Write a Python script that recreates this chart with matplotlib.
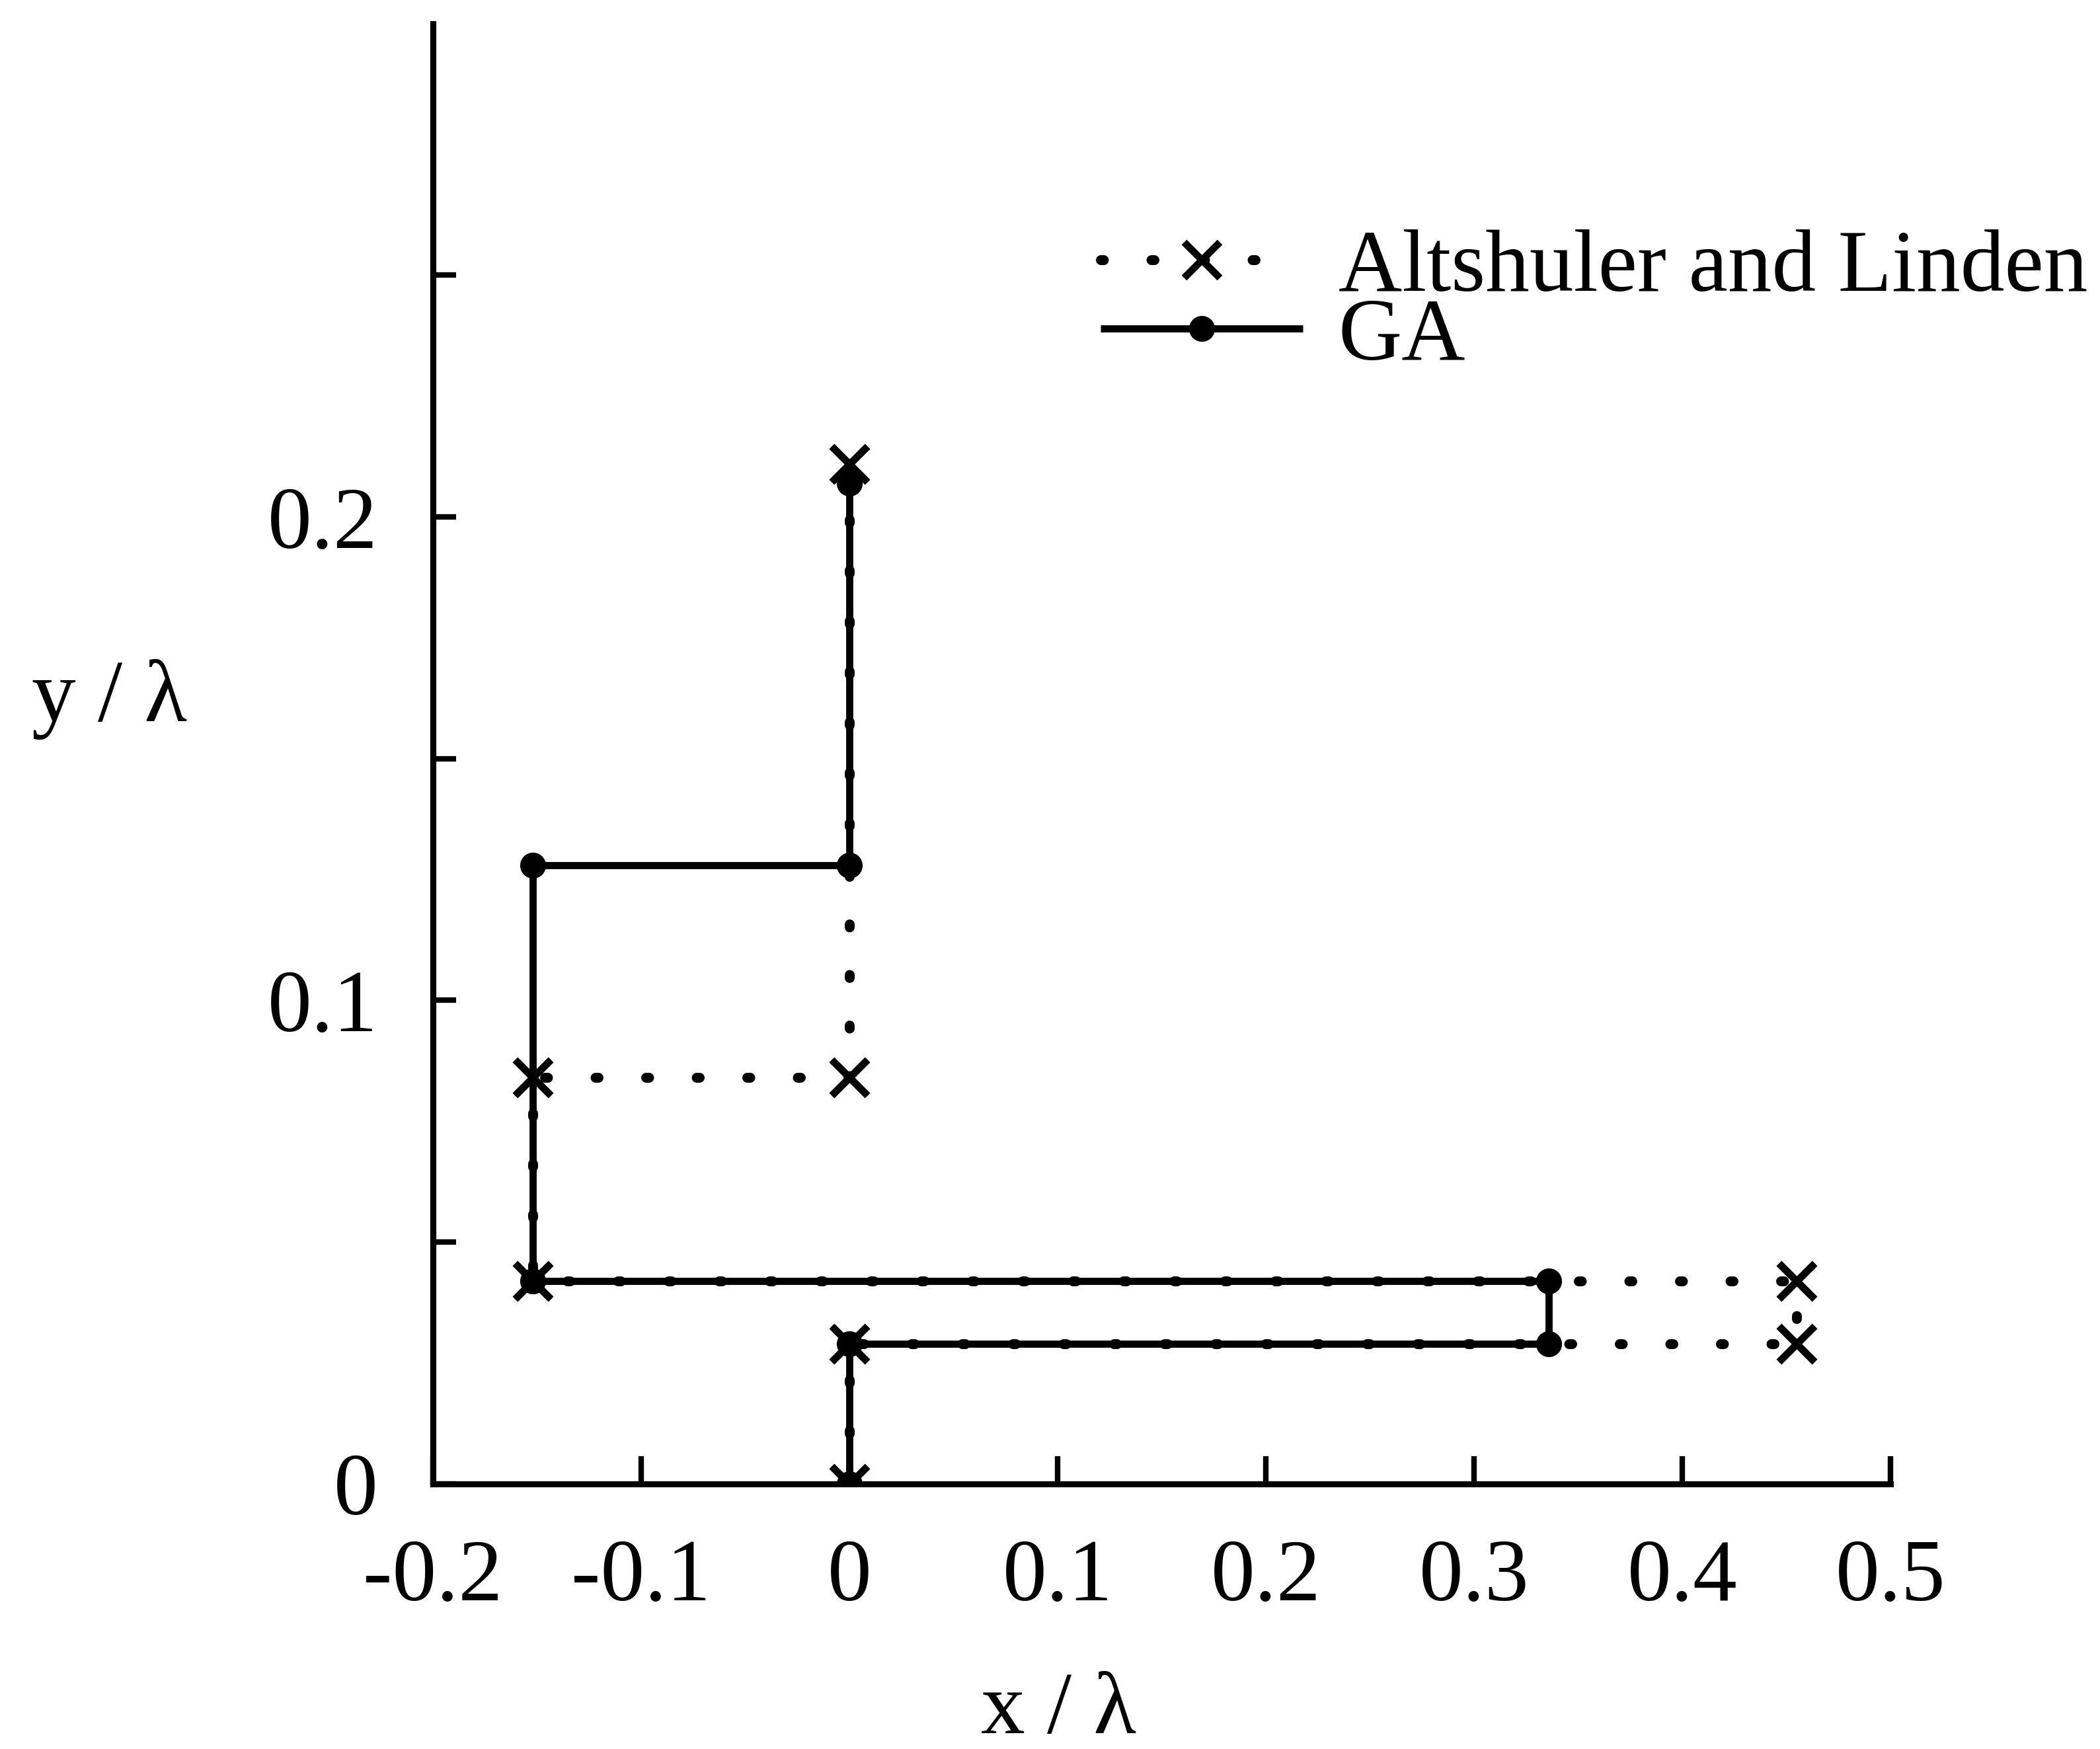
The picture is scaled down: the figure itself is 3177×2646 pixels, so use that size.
import matplotlib
matplotlib.use("Agg")
import matplotlib.pyplot as plt
from matplotlib.ticker import FixedLocator, FixedFormatter

plt.rcParams['font.family'] = ['Liberation Serif', 'DejaVu Serif']
plt.rcParams['axes.unicode_minus'] = False

# Wire geometry (in wavelengths) of the two crooked-wire antennas
al_x = [0.0, 0.0, 0.455, 0.455, -0.152, -0.152, 0.0, 0.0]
al_y = [0.0, 0.029, 0.029, 0.042, 0.042, 0.084, 0.084, 0.211]
ga_x = [0.0, 0.0, 0.336, 0.336, -0.152, -0.152, 0.0, 0.0]
ga_y = [0.0, 0.029, 0.029, 0.042, 0.042, 0.128, 0.128, 0.207]

series_labels = ["Altshuler and Linden", "GA"]
x_ticks = [-0.2, -0.1, 0.0, 0.1, 0.2, 0.3, 0.4, 0.5]
x_tick_labels = ["-0.2", "-0.1", "0", "0.1", "0.2", "0.3", "0.4", "0.5"]
y_major = [0.0, 0.1, 0.2]
y_major_labels = ["0", "0.1", "0.2"]
y_minor = [0.05, 0.15, 0.25]

FS = 32

fig = plt.figure(figsize=(3177 / 300, 2646 / 300), dpi=300)
ax = fig.add_axes([0.2062, 0.1516, 0.9002 - 0.2062, 0.9864 - 0.1516])

# dotted reference wire underneath, solid GA wire over it, crosses on top
al_line, = ax.plot(al_x, al_y, color='black', lw=3.6, linestyle=(0, (0.3, 4.8)),
                   dash_capstyle='round', marker='x', markersize=13,
                   markeredgewidth=2.6, label=series_labels[0], zorder=1)
ga_line, = ax.plot(ga_x, ga_y, color='black', lw=2.6, marker='o', markersize=8.4,
                   label=series_labels[1], zorder=2, solid_capstyle='butt')
ax.plot(al_x, al_y, linestyle='none', color='black', marker='x', markersize=13,
        markeredgewidth=2.6, zorder=3)

ax.set_xlim(-0.2, 0.5)
ax.set_ylim(0.0, 0.302)

for side in ('top', 'right'):
    ax.spines[side].set_visible(False)
for side in ('left', 'bottom'):
    ax.spines[side].set_linewidth(2.2)

ax.xaxis.set_major_locator(FixedLocator(x_ticks))
ax.xaxis.set_major_formatter(FixedFormatter(x_tick_labels))
ax.yaxis.set_major_locator(FixedLocator(y_major))
ax.yaxis.set_major_formatter(FixedFormatter(y_major_labels))
ax.yaxis.set_minor_locator(FixedLocator(y_minor))

ax.tick_params(axis='x', which='both', direction='in', length=10, width=2.0,
               pad=20, labelsize=FS)
ax.tick_params(axis='y', which='both', direction='in', length=8.5, width=2.0,
               pad=20, labelsize=FS)

fig.text(0.052, 0.600, "y / λ", fontsize=FS, ha='center', va='center')
fig.text(0.504, 0.0215, "x / λ", fontsize=FS, ha='center', va='center')

ax.legend([al_line, ga_line], series_labels,
          loc='upper left', bbox_to_anchor=(0.524, 0.869),
          bbox_transform=fig.transFigure, frameon=False, fontsize=FS,
          handlelength=2.3, handletextpad=0.4, labelspacing=-0.13,
          borderpad=0, borderaxespad=0)

fig.savefig("out.png", dpi=300, facecolor='white')
